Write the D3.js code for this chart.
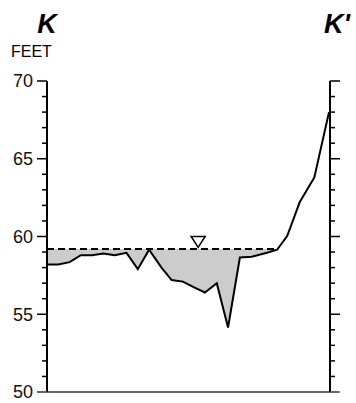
<!DOCTYPE html>
<html>
<head>
<meta charset="utf-8">
<script src="https://cdn.jsdelivr.net/npm/d3@7"></script>
<style>
  body { margin: 0; background: #fff; }
  svg { display: block; font-family: "Liberation Sans", Arial, sans-serif; }
</style>
</head>
<body>
<div class="chart"></div>
<script>
// profile along K - K' (station, elevation in feet)
const stations = [0, 1, 2, 3, 4, 5, 6, 7.05, 8.05, 9.05, 10.15, 11.05, 12.05, 13, 14, 15.05, 16.05, 17.1, 18.15, 19.5, 20.4, 21.3, 22.4, 23.7, 25];
const elevations = [58.2, 58.2, 58.35, 58.8, 58.8, 58.9, 58.8, 58.95, 57.9, 59.15, 58.0, 57.2, 57.1, 56.75, 56.4, 57.0, 54.15, 58.65, 58.7, 58.95, 59.15, 60.05, 62.2, 63.8, 68.0];
const waterLevel = 59.2;
const waterEnd = 20.4;
const waterMark = 13.4;
const yTicks = [50, 55, 60, 65, 70];

const W = 356, H = 403;
const margin = {top: 81, right: 27, bottom: 11, left: 47};
const width = W - margin.left - margin.right;
const height = H - margin.top - margin.bottom;

const data = stations.map((s, i) => ({x: s, y: elevations[i]}));

const x = d3.scaleLinear().domain([0, 25]).range([0, width]);
const y = d3.scaleLinear().domain([50, 70]).range([height, 0]);

const svg = d3.select('.chart').append('svg')
    .attr('width', W)
    .attr('height', H);

svg.append('text')
    .attr('x', margin.left)
    .attr('y', 33)
    .attr('text-anchor', 'middle')
    .attr('font-size', 27)
    .attr('font-weight', 'bold')
    .attr('font-style', 'italic')
    .text('K');

svg.append('text')
    .attr('x', 324)
    .attr('y', 33)
    .attr('font-size', 27)
    .attr('font-weight', 'bold')
    .attr('font-style', 'italic')
    .text("K'");

svg.append('text')
    .attr('x', 11)
    .attr('y', 57)
    .attr('font-size', 16)
    .text('FEET');

const g = svg.append('g')
    .attr('transform', `translate(${margin.left},${margin.top})`);

// bottom line
g.append('line')
    .attr('x1', -10).attr('x2', width + 10)
    .attr('y1', height).attr('y2', height)
    .attr('stroke', '#666')
    .attr('stroke-width', 2);

// water fill under the water level
g.append('clipPath')
    .attr('id', 'below')
  .append('rect')
    .attr('x', 0)
    .attr('y', y(waterLevel))
    .attr('width', x(waterEnd))
    .attr('height', height - y(waterLevel));

g.append('path')
    .datum(data)
    .attr('clip-path', 'url(#below)')
    .attr('fill', '#cccccc')
    .attr('d', d3.area()
      .x(d => x(d.x))
      .y0(y(waterLevel))
      .y1(d => y(d.y)));

// water surface
g.append('line')
    .attr('x1', x(0)).attr('x2', x(waterEnd))
    .attr('y1', y(waterLevel)).attr('y2', y(waterLevel))
    .attr('stroke', '#000')
    .attr('stroke-width', 2)
    .attr('stroke-dasharray', '7,4');

// water level symbol
const tx = x(waterMark), ty = y(waterLevel) - 1.5;
g.append('path')
    .attr('d', `M${tx - 7},${ty - 11}L${tx + 7},${ty - 11}L${tx},${ty}Z`)
    .attr('fill', '#fff')
    .attr('stroke', '#000')
    .attr('stroke-width', 1.5);

// profile line
g.append('path')
    .datum(data)
    .attr('fill', 'none')
    .attr('stroke', '#000')
    .attr('stroke-width', 2)
    .attr('stroke-linejoin', 'miter')
    .attr('d', d3.line().x(d => x(d.x)).y(d => y(d.y)));

// left axis
const minor = d3.range(50, 71, 1);
const leftAxis = g.append('g');
leftAxis.append('line')
    .attr('x1', 0).attr('x2', 0)
    .attr('y1', 0).attr('y2', height)
    .attr('stroke', '#000').attr('stroke-width', 2);
leftAxis.selectAll('.tick')
  .data(minor)
  .join('line')
    .attr('x1', d => yTicks.includes(d) ? -10 : -5)
    .attr('x2', 0)
    .attr('y1', d => y(d)).attr('y2', d => y(d))
    .attr('stroke', d => d === 50 ? '#666' : '#000')
    .attr('stroke-width', 1.5);
leftAxis.selectAll('.lab')
  .data(yTicks)
  .join('text')
    .attr('x', -14)
    .attr('y', d => y(d))
    .attr('dy', '0.36em')
    .attr('text-anchor', 'end')
    .attr('font-size', 18)
    .attr('fill', '#111')
    .text(d => d);

// right axis
const rightAxis = g.append('g')
    .attr('transform', `translate(${width + 1},0)`);
rightAxis.append('line')
    .attr('x1', 0).attr('x2', 0)
    .attr('y1', 0).attr('y2', height)
    .attr('stroke', '#000').attr('stroke-width', 2);
rightAxis.selectAll('.tick')
  .data(minor)
  .join('line')
    .attr('x1', 0)
    .attr('x2', d => yTicks.includes(d) ? 10 : 5)
    .attr('y1', d => y(d)).attr('y2', d => y(d))
    .attr('stroke', d => d === 50 ? '#666' : '#000')
    .attr('stroke-width', 1.5);
</script>
</body>
</html>
